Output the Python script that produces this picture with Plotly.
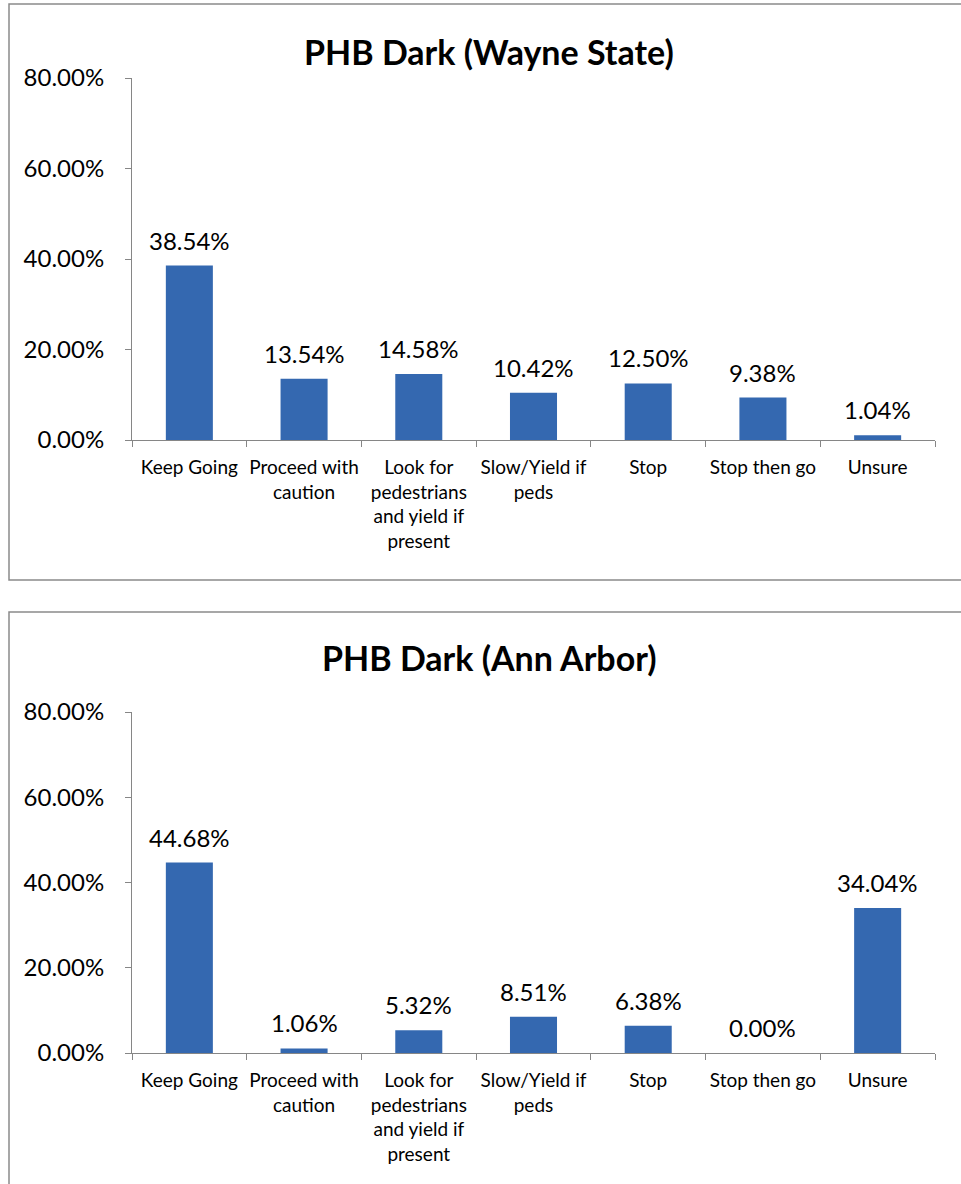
import plotly.graph_objects as go

categories = ["Keep Going", "Proceed with<br>caution", "Look for<br>pedestrians<br>and yield if<br>present",
              "Slow/Yield if<br>peds", "Stop", "Stop then go", "Unsure"]
wayne_state = [0.3854, 0.1354, 0.1458, 0.1042, 0.1250, 0.0938, 0.0104]
ann_arbor = [0.4468, 0.0106, 0.0532, 0.0851, 0.0638, 0.0000, 0.3404]
titles = ["PHB Dark (Wayne State)", "PHB Dark (Ann Arbor)"]
y_ticks = [0, 0.2, 0.4, 0.6, 0.8]

W, H = 961, 1184
FONT = "Lato"
BAR = "#3468b0"
AX = "#868686"

fig = go.Figure()

panels = [
    # (values, x-axis id, y-axis id, y domain, title y px)
    (wayne_state, "x", "y", [1 - 440 / H, 1 - 78 / H], 51),
    (ann_arbor, "x2", "y2", [1 - 1053 / H, 1 - 712 / H], 657),
]

xdom = [132 / W, 935 / W]
annotations = []
for i, (vals, xa, ya, ydom, ty) in enumerate(panels):
    fig.add_trace(go.Bar(x=categories, y=vals, xaxis=xa, yaxis=ya,
                         marker=dict(color=BAR, line=dict(width=0)),
                         showlegend=False, hoverinfo="x+y"))
    for c, v in zip(categories, vals):
        annotations.append(dict(x=c, y=v, xref=xa, yref=ya, text=f"{v*100:.2f}%",
                                showarrow=False, yanchor="bottom", yshift=9,
                                font=dict(family=FONT, size=24, color="#000000")))
    annotations.append(dict(x=0.509, y=1 - ty / H, xref="paper", yref="paper",
                            text=f"<b>{titles[i]}</b>", showarrow=False,
                            xanchor="center", yanchor="middle",
                            font=dict(family=FONT, size=34, color="#000000")))
    sfx = "" if i == 0 else "2"
    fig.layout["xaxis" + sfx] = dict(domain=xdom, anchor=ya, type="category",
                                     showline=True, linecolor=AX, linewidth=1,
                                     ticks="outside", tickson="boundaries", ticklen=6,
                                     tickcolor=AX, showgrid=False, tickangle=0,
                                     automargin=False,
                                     tickfont=dict(family=FONT, size=19, color="#000000"),
                                     ticklabelstandoff=10, fixedrange=True)
    fig.layout["yaxis" + sfx] = dict(domain=ydom, anchor=xa, range=[0, 0.8],
                                     tickvals=y_ticks, tickformat=".2%",
                                     showline=True, linecolor=AX, linewidth=1,
                                     ticks="outside", ticklen=6, tickcolor=AX,
                                     showgrid=False, zeroline=False, automargin=False,
                                     tickfont=dict(family=FONT, size=24, color="#000000"),
                                     ticklabelstandoff=16, fixedrange=True)

shapes = [
    dict(type="rect", xref="paper", yref="paper", x0=9 / W, x1=1.02,
         y0=1 - 580 / H, y1=1 - 4 / H, line=dict(color="#8a8a8a", width=1.5),
         fillcolor="rgba(0,0,0,0)", layer="below"),
    dict(type="rect", xref="paper", yref="paper", x0=9 / W, x1=1.02,
         y0=-0.02, y1=1 - 612 / H, line=dict(color="#8a8a8a", width=1.5),
         fillcolor="rgba(0,0,0,0)", layer="below"),
]

fig.update_layout(template="none", width=W, height=H, margin=dict(l=0, r=0, t=0, b=0, autoexpand=False),
                  paper_bgcolor="white", plot_bgcolor="white",
                  bargap=0.59, annotations=annotations, shapes=shapes,
                  font=dict(family=FONT, color="#000000"))

fig.write_html("out.html", config={"displayModeBar": False},
               post_script="document.body.style.margin='0';document.body.style.padding='0';")
